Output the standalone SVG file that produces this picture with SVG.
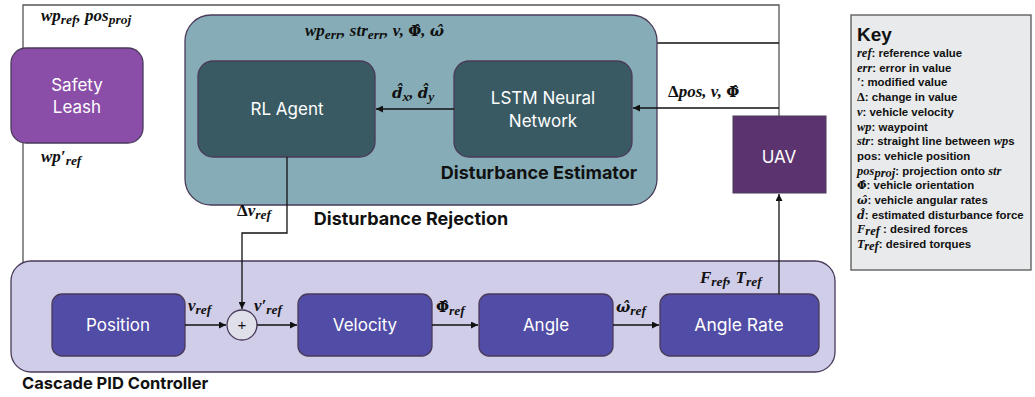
<svg xmlns="http://www.w3.org/2000/svg" width="1035" height="397" viewBox="0 0 1035 397">
<style>
.node{font-family:Inter,"Noto Sans",sans-serif;font-size:17px;fill:#fff;text-anchor:middle}
.title{font-family:Inter,"Liberation Sans",sans-serif;font-size:18px;font-weight:bold;fill:#111}
.m{font-family:"Liberation Serif",serif;font-size:17px;font-weight:bold;font-style:italic;fill:#111}
.h{font-family:"DejaVu Serif",serif;font-size:15px}
.up{font-style:normal}
.sub{font-size:13.5px}
.k{font-family:"Liberation Sans",Arial,sans-serif;font-size:11.4px;font-weight:bold;fill:#111}
.km{font-family:"Liberation Serif",serif;font-size:12.5px;font-weight:bold;font-style:italic}
.kh{font-family:"DejaVu Serif",serif;font-size:11px;font-weight:bold}
.ln{fill:none;stroke:#111;stroke-width:1.3}
.fr{fill:none;stroke:#555;stroke-width:1.3}
</style>
<defs>
<marker id="ah" viewBox="0 0 10 10" refX="10" refY="5" markerWidth="7" markerHeight="7" orient="auto" markerUnits="userSpaceOnUse">
<path d="M0,0 L10,5 L0,10 z" fill="#111"/>
</marker>
</defs>
<rect width="1035" height="397" fill="#fff"/>

<g id="connectors">
<path class="fr" d="M779,116 V5 H23 V325 H51" marker-end="url(#ah)"/>
<path class="ln" d="M779,43 H287 V61" marker-end="url(#ah)"/>
</g>

<g id="disturbance-rejection">
<rect x="185" y="15" width="472" height="190" rx="26" fill="#86adb7" stroke="#4a3a5a" stroke-width="1.3"/>
<text class="title" x="539" y="179" text-anchor="middle">Disturbance Estimator</text>
</g>
<text class="title" x="411" y="225" text-anchor="middle">Disturbance Rejection</text>

<g id="cascade">
<rect x="11" y="261" width="824" height="111" rx="20" fill="#cfcde8" stroke="#4a3a5a" stroke-width="1.3"/>
</g>
<text class="title" x="22" y="389" style="font-size:16.5px">Cascade PID Controller</text>

<g id="safety-leash">
<rect x="11" y="48" width="132" height="95" rx="15" fill="#8a4ea8" stroke="#4a3a5a" stroke-width="1.3"/>
<text class="node" x="77" y="91">Safety</text>
<text class="node" x="77" y="113">Leash</text>
</g>

<g id="rl-agent">
<rect x="198" y="61" width="177" height="96" rx="15" fill="#3a5a63" stroke="#4a3a5a" stroke-width="1.3"/>
<text class="node" x="287" y="115">RL Agent</text>
</g>

<g id="lstm">
<rect x="454" y="61" width="178" height="96" rx="15" fill="#3a5a63" stroke="#4a3a5a" stroke-width="1.3"/>
<text class="node" x="543" y="104">LSTM Neural</text>
<text class="node" x="543" y="127">Network</text>
</g>

<g id="uav">
<rect x="733" y="116" width="93" height="77" fill="#5b346f" stroke="#4a3a5a" stroke-width="1"/>
<text class="node" x="779" y="163">UAV</text>
</g>

<g id="position">
<rect x="52" y="294" width="133" height="62" rx="10" fill="#514ca6" stroke="#4a3a5a" stroke-width="1.3"/>
<text class="node" x="118" y="331">Position</text>
</g>

<g id="sum">
<circle cx="242" cy="325" r="15" fill="#dfe0ea" stroke="#4a3a5a" stroke-width="1.3"/>
<text x="242" y="330" text-anchor="middle" style="font-family:'Liberation Sans',sans-serif;font-size:15px;fill:#111">+</text>
</g>

<g id="velocity">
<rect x="298" y="294" width="134" height="62" rx="10" fill="#514ca6" stroke="#4a3a5a" stroke-width="1.3"/>
<text class="node" x="365" y="331">Velocity</text>
</g>

<g id="angle">
<rect x="479" y="294" width="134" height="62" rx="10" fill="#514ca6" stroke="#4a3a5a" stroke-width="1.3"/>
<text class="node" x="546" y="331">Angle</text>
</g>

<g id="angle-rate">
<rect x="660" y="294" width="159" height="62" rx="10" fill="#514ca6" stroke="#4a3a5a" stroke-width="1.3"/>
<text class="node" x="739" y="331" style="font-size:17.5px">Angle Rate</text>
</g>

<g id="connectors2">
<path class="ln" d="M779,108 H633" marker-end="url(#ah)"/>
<path class="ln" d="M454,109 H376" marker-end="url(#ah)"/>
<path class="ln" d="M287,157 V233 H242 V309" marker-end="url(#ah)"/>
<path class="ln" d="M185,325 H226" marker-end="url(#ah)"/>
<path class="ln" d="M257,325 H297" marker-end="url(#ah)"/>
<path class="ln" d="M432,325 H478" marker-end="url(#ah)"/>
<path class="ln" d="M613,325 H659" marker-end="url(#ah)"/>
<path class="ln" d="M779,294 V194" marker-end="url(#ah)"/>
</g>

<g id="labels">
<text class="m" x="41" y="21">wp<tspan class="sub" dy="3">ref</tspan><tspan dy="-3">, pos</tspan><tspan class="sub" dy="3">proj</tspan></text>
<text class="m" x="41" y="162">wp′<tspan class="sub" dy="3">ref</tspan></text>
<text class="m" x="305" y="36">wp<tspan class="sub" dy="3">err</tspan><tspan dy="-3">, str</tspan><tspan class="sub" dy="3">err</tspan><tspan dy="-3">, v, </tspan><tspan class="h up">Φ̂</tspan>, <tspan class="h">ω̂</tspan></text>
<text class="m" x="392" y="98"><tspan class="h">d̂</tspan><tspan class="sub" dy="3">x</tspan><tspan dy="-3">, </tspan><tspan class="h">d̂</tspan><tspan class="sub" dy="3">y</tspan></text>
<text class="m" x="668" y="97"><tspan class="up">Δ</tspan>pos, v, <tspan class="h up">Φ̂</tspan></text>
<text class="m" x="237" y="216"><tspan class="up">Δ</tspan>v<tspan class="sub" dy="3">ref</tspan></text>
<text class="m" x="188" y="311">v<tspan class="sub" dy="3">ref</tspan></text>
<text class="m" x="254" y="311">v′<tspan class="sub" dy="3">ref</tspan></text>
<text class="m" x="436" y="312"><tspan class="h up">Φ̂</tspan><tspan class="sub" dy="3">ref</tspan></text>
<text class="m" x="616" y="312"><tspan class="h">ω̂</tspan><tspan class="sub" dy="3">ref</tspan></text>
<text class="m" x="700" y="283">F<tspan class="sub" dy="3">ref</tspan><tspan dy="-3">, T</tspan><tspan class="sub" dy="3">ref</tspan></text>
</g>

<g id="key">
<rect x="851" y="15" width="180" height="255" fill="#e8eaeb" stroke="#555" stroke-width="1.3"/>
<text x="857" y="41" style="font-family:'Liberation Sans',Arial,sans-serif;font-size:19px;font-weight:bold;fill:#111">Key</text>
<text class="k" x="857" y="57"><tspan class="km">ref</tspan>: reference value</text>
<text class="k" x="857" y="71.7"><tspan class="km">err</tspan>: error in value</text>
<text class="k" x="857" y="86.4"><tspan class="km">′</tspan>: modified value</text>
<text class="k" x="857" y="101.1"><tspan class="km" style="font-style:normal">Δ</tspan>: change in value</text>
<text class="k" x="857" y="115.8"><tspan class="km">v</tspan>: vehicle velocity</text>
<text class="k" x="857" y="130.5"><tspan class="km">wp</tspan>: waypoint</text>
<text class="k" x="857" y="145.2"><tspan class="km">str</tspan>: straight line between <tspan class="km">wp</tspan>s</text>
<text class="k" x="857" y="159.9">pos: vehicle position</text>
<text class="k" x="857" y="174.6"><tspan class="km">pos</tspan><tspan class="km" font-size="9" dy="2">proj</tspan><tspan dy="-2">: projection onto </tspan><tspan class="km">str</tspan></text>
<text class="k" x="857" y="189.3"><tspan class="kh">Φ̂</tspan>: vehicle orientation</text>
<text class="k" x="857" y="204"><tspan class="kh" font-style="italic">ω̂</tspan>: vehicle angular rates</text>
<text class="k" x="857" y="218.7"><tspan class="kh" font-style="italic">d̂</tspan>: estimated disturbance force</text>
<text class="k" x="857" y="233.4"><tspan class="km">F</tspan><tspan class="km" font-size="9" dy="2">ref</tspan><tspan dy="-2"> : desired forces</tspan></text>
<text class="k" x="857" y="248.1"><tspan class="km">T</tspan><tspan class="km" font-size="9" dy="2">ref</tspan><tspan dy="-2">: desired torques</tspan></text>
</g>
</svg>
